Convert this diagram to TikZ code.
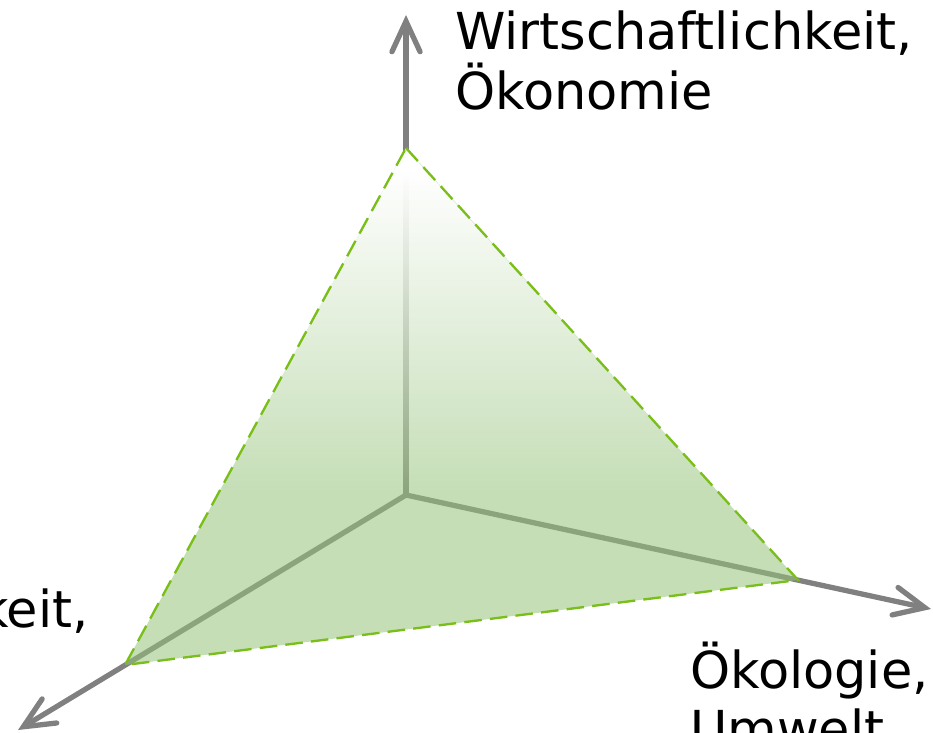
\documentclass[tikz,border=0pt]{standalone}
\usepackage{fontspec}
\setmainfont{DejaVu Sans}
\usetikzlibrary{arrows.meta,fadings}

\definecolor{axisgray}{RGB}{128,128,128}
\definecolor{leafgreen}{RGB}{149,195,122}
\definecolor{rimgreen}{RGB}{122,190,26}

\begin{tikzfadingfrompicture}[name=whitetop]
  \fill[transparent!100] (-2,-2) rectangle (2,-0.3);
  \shade[top color=transparent!0,bottom color=transparent!100] (-2,-0.3) rectangle (2,0.8);
  \fill[transparent!0] (-2,0.8) rectangle (2,2);
\end{tikzfadingfrompicture}

\tikzset{
  axisline/.style={draw=axisgray,line width=4.5pt,-{Straight Barb[length=26pt,width=24pt,line cap=round]}},
  rim/.style={draw=rimgreen,line width=2pt,dash pattern=on 15pt off 7pt},
  pillartext/.style={inner sep=0pt,align=left,font=\fontsize{43.5}{50.5}\selectfont}
}

\begin{document}
\begin{tikzpicture}[x=0.03cm,y=-0.03cm]
\useasboundingbox (0,0) rectangle (933,732);
\clip (0,0) rectangle (933,732);

\coordinate (O) at (406,495);
\coordinate (oekon) at (406,15);
\coordinate (oekol) at (931,609);
\coordinate (sozial) at (18,730);
\coordinate (vtop) at (406,148);
\coordinate (vright) at (798,580);
\coordinate (vleft) at (125,665);

\draw[axisline] (O) -- (oekon);
\draw[axisline] (O) -- (oekol);
\draw[axisline] (O) -- (sozial);

\fill[leafgreen,fill opacity=0.55] (vtop) -- (vright) -- (vleft) -- cycle;
\fill[white,path fading=whitetop] (vtop) -- (vright) -- (vleft) -- cycle;
\draw[rim] (vtop) -- (vright) -- (vleft) -- cycle;

\node[pillartext,anchor=north west] (toptext) at (455,11) {Wirtschaftlichkeit,\\Ökonomie};
\node[pillartext,anchor=north west] (righttext) at (690,642) {Ökologie,\\Umwelt};
\node[pillartext,anchor=north west] (lefttext) at (-21,589) {keit,};
\end{tikzpicture}
\end{document}
